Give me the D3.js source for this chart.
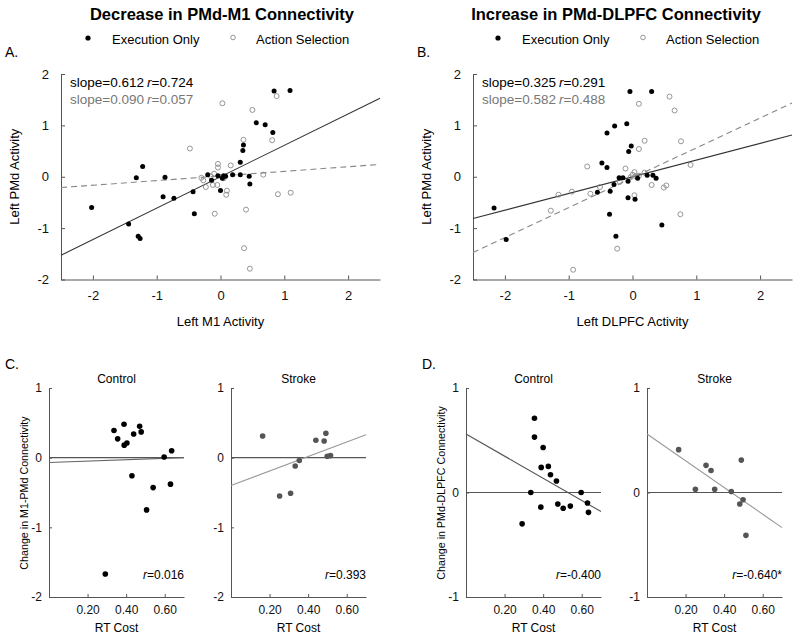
<!DOCTYPE html>
<html>
<head>
<meta charset="utf-8">
<script src="https://cdn.jsdelivr.net/npm/d3@7"></script>
<style>
  body { margin: 0; background: #fff; }
  svg { font-family: "Liberation Sans", Arial, Helvetica, sans-serif; }
  .axis path, .axis line { stroke: #555; }
  .axis text { fill: #111; }
</style>
</head>
<body>
<div id="chart"></div>
<script>
// ---- data ----
// panel A: PMd vs M1 activity
var aExec = [[0.84,1.67],[1.09,1.68],[0.56,1.05],[0.70,1.01],[0.82,0.86],[0.36,0.62],[0.35,0.51],[0.31,0.28],
  [-1.22,0.20],[-1.32,-0.02],[-0.87,-0.01],[-0.90,-0.39],[-0.73,-0.42],[-0.43,-0.29],[-0.41,-0.72],[-1.44,-0.92],
  [-1.29,-1.16],[-1.26,-1.20],[-0.20,0.04],[-0.14,-0.07],[0.00,-0.27],[0.03,-0.03],[0.05,0.02],[0.08,0.01],
  [0.19,0.04],[0.31,0.04],[0.45,0.01],[0.46,-0.14],[-0.04,0.02],[-2.02,-0.60]];
var aAction = [[0.88,1.57],[0.03,1.43],[0.50,1.30],[0.81,0.71],[0.36,0.72],[-0.48,0.55],[-0.04,0.25],[-0.04,0.18],
  [0.16,0.22],[0.67,0.04],[-0.27,-0.07],[-0.23,-0.20],[-0.12,-0.16],[-0.05,-0.16],[0.10,-0.27],[0.09,-0.35],
  [0.90,-0.34],[1.10,-0.31],[0.40,-0.64],[-0.09,-0.72],[0.37,-1.39],[0.46,-1.79],[-0.10,0.06],[0.02,0.00],
  [-0.15,0.01],[0.05,-0.03],[-0.30,-0.02]];
var aExecFit = [0.0, 0.612];     // [intercept, slope]
var aActionFit = [0.015, 0.09];

// panel B: PMd vs DLPFC activity
var bExec = [[-0.04,1.66],[0.30,1.66],[-0.28,0.99],[-0.40,0.85],[-0.09,1.03],[-0.02,0.60],[-0.06,0.49],[-0.48,0.27],
  [-0.40,0.18],[-0.21,-0.02],[-0.15,-0.02],[-0.29,-0.15],[-0.55,-0.30],[-0.35,-0.28],[-0.07,-0.09],[-0.07,-0.41],
  [0.04,-0.44],[0.23,0.03],[0.32,0.03],[0.37,-0.03],[0.08,-0.03],[-0.36,-0.73],[0.46,-0.94],[-0.26,-1.16],
  [-1.98,-1.22],[-2.17,-0.61]];
var bAction = [[0.58,1.56],[0.10,1.42],[0.66,1.29],[0.19,0.70],[0.76,0.69],[0.10,0.54],[-0.71,0.20],[-0.11,0.16],
  [0.91,0.23],[0.03,0.09],[0.19,0.08],[-0.51,-0.20],[-0.66,-0.33],[-0.95,-0.29],[-1.16,-0.35],[-1.28,-0.66],
  [0.30,-0.16],[0.49,-0.21],[0.53,-0.17],[0.03,-0.36],[0.75,-0.73],[-0.24,-1.40],[-0.93,-1.81],[0.00,0.04],
  [0.05,0.01],[-0.03,-0.01],[0.10,0.02],[-0.20,-0.10]];
var bExecFit = [0.0, 0.325];
var bActionFit = [-0.02, 0.582];

var topXTicks = [-2, -1, 0, 1, 2];
var topYTicks = [-2, -1, 0, 1, 2];

// panels C and D: change in connectivity vs RT cost
var cControl = [[0.337,0.39],[0.356,0.27],[0.389,0.48],[0.39,0.18],[0.404,0.21],[0.439,0.34],[0.47,0.45],[0.478,0.37],
  [0.43,-0.26],[0.54,-0.43],[0.506,-0.75],[0.597,0.01],[0.636,0.10],[0.63,-0.38],[0.292,-1.67]];
var cStroke = [[0.164,0.31],[0.252,-0.55],[0.309,-0.51],[0.333,-0.12],[0.354,-0.04],[0.44,0.25],[0.483,0.24],
  [0.492,0.35],[0.499,0.02],[0.516,0.03]];
var dControl = [[0.355,0.71],[0.355,0.53],[0.40,0.43],[0.39,0.24],[0.427,0.25],[0.438,0.17],[0.469,0.11],[0.336,0.0],
  [0.388,-0.14],[0.291,-0.30],[0.476,-0.11],[0.504,-0.15],[0.541,-0.13],[0.597,0.0],[0.63,-0.10],[0.635,-0.19]];
var dStroke = [[0.164,0.41],[0.251,0.03],[0.306,0.26],[0.332,0.21],[0.351,0.03],[0.437,0.01],[0.489,0.31],
  [0.481,-0.11],[0.498,-0.07],[0.513,-0.41]];
var cControlFit = [-0.07, 0.10];
var cStrokeFit = [-0.40, 1.04];
var dControlFit = [0.56, -1.06];
var dStrokeFit = [0.56, -1.28];

var rtTicks = [0.2, 0.4, 0.6];
var cYTicks = [-2, -1, 0, 1];
var dYTicks = [-1, 0, 1];

var svg = d3.select("#chart").append("svg")
    .attr("width", 800)
    .attr("height", 640);

function rLabel(sel, value) {
  sel.append("tspan").style("font-style", "italic").text("r");
  sel.append("tspan").text("=" + value);
}

function fitLine(g, x, y, fit, color, dash) {
  var xs = x.domain();
  g.append("line")
    .attr("x1", x(xs[0])).attr("y1", y(fit[0] + fit[1] * xs[0]))
    .attr("x2", x(xs[1])).attr("y2", y(fit[0] + fit[1] * xs[1]))
    .attr("stroke", color)
    .attr("stroke-width", 1.1)
    .attr("stroke-dasharray", dash || null);
}

function drawTop(cfg) {
  var g = svg.append("g");
  var x = d3.scaleLinear().domain([-2.5, 2.5]).range([cfg.x0, cfg.x0 + 319]);
  var y = d3.scaleLinear().domain([-2, 2]).range([279.5, 74]);

  g.append("g").attr("class", "axis")
    .attr("transform", "translate(0," + y(-2) + ")")
    .call(d3.axisBottom(x).tickValues(topXTicks).tickFormat(d => String(d))
      .tickSizeInner(-4).tickSizeOuter(0).tickPadding(11))
    .selectAll("text").style("font-size", "13px");
  g.append("g").attr("class", "axis")
    .attr("transform", "translate(" + x(-2.5) + ",0)")
    .call(d3.axisLeft(y).tickValues(topYTicks).tickFormat(d => String(d))
      .tickSizeInner(-4).tickSizeOuter(0).tickPadding(12))
    .selectAll("text").style("font-size", "13px");

  fitLine(g, x, y, cfg.actionFit, "#888", "6,4");
  fitLine(g, x, y, cfg.execFit, "#333");

  g.selectAll(".open").data(cfg.action).enter().append("circle")
    .attr("cx", d => x(d[0])).attr("cy", d => y(d[1]))
    .attr("r", 2.5)
    .attr("fill", "none").attr("stroke", "#8a8a8a").attr("stroke-width", 0.9);
  g.selectAll(".dot").data(cfg.exec).enter().append("circle")
    .attr("cx", d => x(d[0])).attr("cy", d => y(d[1]))
    .attr("r", 2.5)
    .attr("fill", "#000");

  // titles, legend and labels
  svg.append("text").attr("x", cfg.titleX).attr("y", 20)
    .attr("text-anchor", "middle").style("font-size", "16.5px").style("font-weight", "bold")
    .text(cfg.title);
  svg.append("circle").attr("cx", cfg.legX).attr("cy", 38).attr("r", 2.6).attr("fill", "#000");
  svg.append("text").attr("x", cfg.legX + 24).attr("y", 44).style("font-size", "13px").text("Execution Only");
  svg.append("circle").attr("cx", cfg.legX + 145).attr("cy", 37.5).attr("r", 2.3)
    .attr("fill", "none").attr("stroke", "#888").attr("stroke-width", 0.9);
  svg.append("text").attr("x", cfg.legX + 168).attr("y", 44).style("font-size", "13px").text("Action Selection");
  svg.append("text").attr("x", cfg.x0 - 56).attr("y", 57).style("font-size", "14px").text(cfg.panel);

  var s1 = svg.append("text").attr("x", cfg.x0 + 9).attr("y", 87).style("font-size", "13.5px").attr("fill", "#000");
  s1.append("tspan").text("slope=" + cfg.execStats[0]);
  s1.append("tspan").attr("x", cfg.x0 + 86).style("font-style", "italic").text("r");
  s1.append("tspan").text("=" + cfg.execStats[1]);
  var s2 = svg.append("text").attr("x", cfg.x0 + 9).attr("y", 104).style("font-size", "13.5px").attr("fill", "#777");
  s2.append("tspan").text("slope=" + cfg.actionStats[0]);
  s2.append("tspan").attr("x", cfg.x0 + 86).style("font-style", "italic").text("r");
  s2.append("tspan").text("=" + cfg.actionStats[1]);

  svg.append("text").attr("x", x(0)).attr("y", 326).attr("text-anchor", "middle")
    .style("font-size", "13px").text(cfg.xLabel);
  svg.append("text").attr("transform", "translate(" + (cfg.x0 - 42) + "," + y(0) + ") rotate(-90)")
    .attr("text-anchor", "middle").style("font-size", "13px").text("Left PMd Activity");
}

function drawBottom(cfg) {
  var g = svg.append("g");
  var x = d3.scaleLinear().domain([0, 0.7]).range([cfg.x0, cfg.x0 + 135]);
  var y = d3.scaleLinear().domain(cfg.yDomain).range([597, 388]);

  g.append("g").attr("class", "axis")
    .attr("transform", "translate(0," + y(cfg.yDomain[0]) + ")")
    .call(d3.axisBottom(x).tickValues(rtTicks).tickFormat(d3.format(".2f"))
      .tickSizeInner(-3).tickSizeOuter(0).tickPadding(8))
    .selectAll("text").style("font-size", "12px");
  g.append("g").attr("class", "axis")
    .attr("transform", "translate(" + cfg.x0 + ",0)")
    .call(d3.axisLeft(y).tickValues(cfg.yTicks).tickFormat(d => String(d))
      .tickSizeInner(-3).tickSizeOuter(0).tickPadding(7))
    .selectAll("text").style("font-size", "12px");

  g.append("line")
    .attr("x1", x(0)).attr("x2", x(0.7)).attr("y1", y(0)).attr("y2", y(0))
    .attr("stroke", "#555").attr("stroke-width", 1.1);
  fitLine(g, x, y, cfg.fit, cfg.fitColor);

  g.selectAll(".pt").data(cfg.points).enter().append("circle")
    .attr("cx", d => x(d[0])).attr("cy", d => y(d[1]))
    .attr("r", 2.8)
    .attr("fill", cfg.color);

  svg.append("text").attr("x", x(0.35)).attr("y", 383).attr("text-anchor", "middle")
    .style("font-size", "12px").text(cfg.title);
  svg.append("text").attr("x", x(0.35)).attr("y", 632).attr("text-anchor", "middle")
    .style("font-size", "12px").text("RT Cost");
  var rt = svg.append("text").attr("x", x(0.7)).attr("y", 579).attr("text-anchor", "end")
    .style("font-size", "12px");
  rLabel(rt, cfg.r);

  if (cfg.yLabel) {
    svg.append("text").attr("transform", "translate(" + (cfg.x0 - 21) + ",493) rotate(-90)")
      .attr("text-anchor", "middle").style("font-size", "10.7px").text(cfg.yLabel);
    svg.append("text").attr("x", cfg.x0 - 44).attr("y", 369).style("font-size", "14px").text(cfg.panel);
  }
}

drawTop({ x0: 61, titleX: 222, legX: 88, panel: "A.", title: "Decrease in PMd-M1 Connectivity",
  xLabel: "Left M1 Activity", exec: aExec, action: aAction, execFit: aExecFit, actionFit: aActionFit,
  execStats: ["0.612", "0.724"], actionStats: ["0.090", "0.057"] });
drawTop({ x0: 473, titleX: 616, legX: 498, panel: "B.", title: "Increase in PMd-DLPFC Connectivity",
  xLabel: "Left DLPFC Activity", exec: bExec, action: bAction, execFit: bExecFit, actionFit: bActionFit,
  execStats: ["0.325", "0.291"], actionStats: ["0.582", "0.488"] });

drawBottom({ x0: 49, yDomain: [-2, 1], yTicks: cYTicks, points: cControl, color: "#000", fit: cControlFit,
  fitColor: "#666", title: "Control", r: "0.016", panel: "C.", yLabel: "Change in M1-PMd Connectivity" });
drawBottom({ x0: 231, yDomain: [-2, 1], yTicks: cYTicks, points: cStroke, color: "#555", fit: cStrokeFit,
  fitColor: "#999", title: "Stroke", r: "0.393" });
drawBottom({ x0: 466, yDomain: [-1, 1], yTicks: dYTicks, points: dControl, color: "#000", fit: dControlFit,
  fitColor: "#555", title: "Control", r: "-0.400", panel: "D.", yLabel: "Change in PMd-DLPFC Connectivity" });
drawBottom({ x0: 647, yDomain: [-1, 1], yTicks: dYTicks, points: dStroke, color: "#555", fit: dStrokeFit,
  fitColor: "#999", title: "Stroke", r: "-0.640*" });
</script>
</body>
</html>
